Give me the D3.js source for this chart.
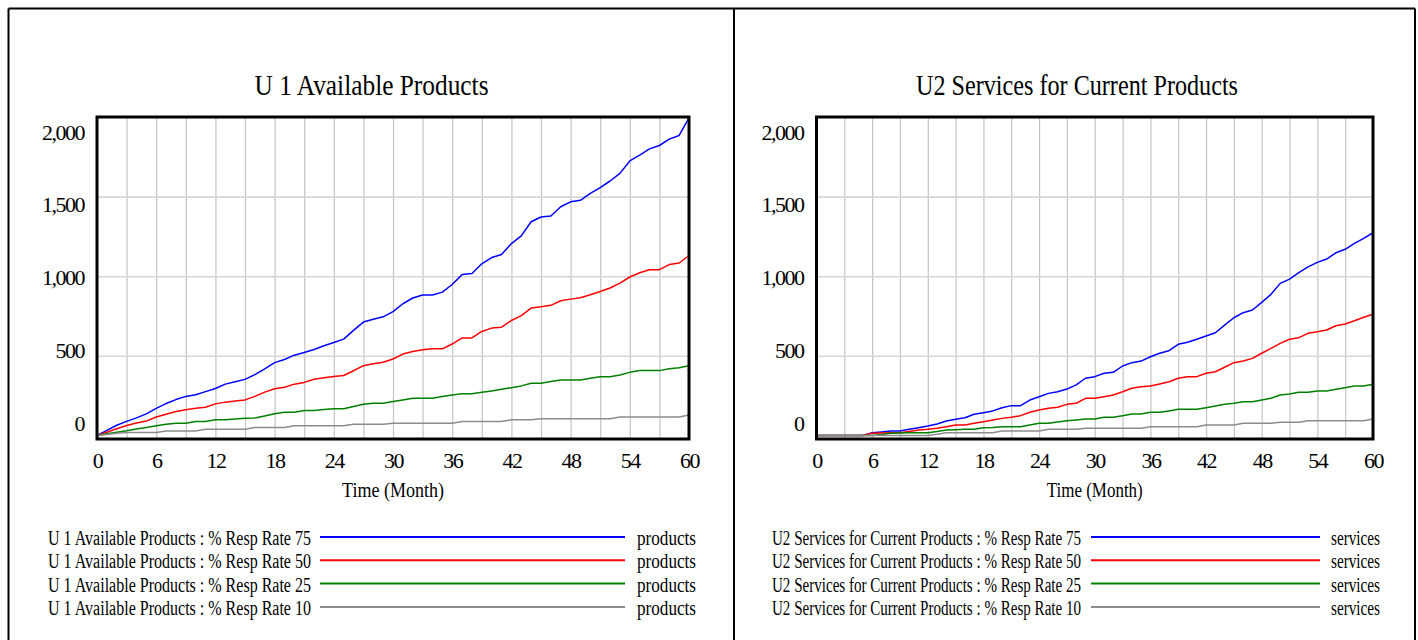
<!DOCTYPE html>
<html>
<head>
<meta charset="utf-8">
<script src="https://cdn.jsdelivr.net/npm/d3@7"></script>
<style>
  body { margin: 0; background: #fff; }
  text { font-family: "Liberation Serif", "Times New Roman", serif; fill: #000; }
</style>
</head>
<body>
<svg id="chart"></svg>
<script>
// Time axis (months) and tick labels
const MONTHS = d3.range(0, 61);
const X_TICKS = [0, 6, 12, 18, 24, 30, 36, 42, 48, 54, 60];
const GRID_MONTHS = [3, 6, 9, 12, 15, 18, 21, 24, 27, 30, 33, 36, 39, 42, 45, 48, 51, 54, 57];
const Y_TICKS = [0, 500, 1000, 1500, 2000];
const Y_GRID = [500, 1000, 1500];
const RESP_RATES = ['75', '50', '25', '10'];

// U1 Available Products (products), one value per month 0..60
const u1Resp75 = [0,32,64,88,110,135,170,200,225,245,255,275,295,322,337,352,382,418,457,477,504,521,540,563,584,605,660,712,729,745,778,827,863,882,882,900,948,1010,1017,1078,1117,1136,1205,1253,1342,1372,1378,1436,1467,1477,1520,1557,1598,1646,1724,1761,1800,1821,1861,1884,1995];
const u1Resp50 = [0,20,42,62,78,90,116,133,150,161,170,177,198,209,216,223,245,272,293,303,322,333,353,362,370,376,406,438,450,460,480,511,527,538,544,544,574,612,612,653,674,680,722,752,800,808,817,846,856,865,883,904,926,957,995,1022,1041,1041,1073,1083,1130];
const u1Resp25 = [0,10,20,29,40,50,61,70,77,77,88,88,98,98,103,107,109,122,136,146,146,157,157,162,167,167,182,196,202,202,213,223,234,234,234,244,254,261,261,271,279,290,300,311,327,327,338,348,348,348,359,369,369,379,396,407,407,407,419,425,437];
const u1Resp10 = [0,6,13,18,18,18,18,28,28,28,28,39,39,39,39,39,49,49,49,49,60,60,60,60,60,60,70,70,70,70,77,77,77,77,77,77,77,87,87,87,87,87,98,98,98,104,104,104,104,104,104,104,104,115,115,115,115,115,115,115,128];

// U2 Services for Current Products (services)
const u2Resp75 = [0,0,0,0,0,0,17,22,28,28,38,48,59,72,90,101,111,133,143,154,174,187,187,222,243,264,274,291,317,359,369,390,396,436,457,467,494,516,532,572,585,604,624,645,693,739,771,788,836,886,955,982,1022,1059,1087,1108,1147,1169,1206,1238,1273];
const u2Resp50 = [0,0,0,0,0,0,13,15,17,17,25,34,38,45,55,65,65,76,86,97,107,114,124,145,160,170,177,195,202,233,233,243,254,274,296,306,310,323,337,359,369,369,390,400,428,457,467,484,516,547,578,604,614,641,651,662,689,700,720,742,761];
const u2Resp25 = [0,0,0,0,0,0,0,5,13,15,16,17,17,25,34,36,38,38,48,50,55,55,55,65,76,76,84,92,97,103,103,114,114,124,134,134,145,145,154,164,164,164,174,185,195,202,212,212,222,233,254,260,271,271,279,279,290,300,310,310,321];
const u2Resp10 = [0,0,0,0,0,0,0,0,0,0,0,0,0,8,17,17,17,17,17,17,28,28,28,28,28,38,38,38,38,45,45,45,45,45,45,45,55,55,55,55,55,55,65,65,65,65,76,76,76,76,82,82,82,92,92,92,92,92,92,92,103];

const COLORS = ['#0000ff', '#ff0000', '#008000', '#8c8c8c'];

const W = 1418, H = 640;
const PLOT_TOP = 117, PLOT_BOTTOM = 439;

const PANELS = [
  {
    title: 'U 1 Available Products', titleX: 371.5, titleW: 234,
    x0: 97, x1: 689, xLabelW: 102,
    legendPrefix: 'U 1 Available Products : % Resp Rate ', legendEnd: 311, legendW: 263,
    lineX0: 320, lineX1: 625, unit: 'products', unitX: 637, unitW: 59,
    series: [u1Resp75, u1Resp50, u1Resp25, u1Resp10]
  },
  {
    title: 'U2 Services for Current Products', titleX: 1077, titleW: 322,
    x0: 816.5, x1: 1373, xLabelW: 96,
    legendPrefix: 'U2 Services for Current Products : % Resp Rate ', legendEnd: 1081, legendW: 309,
    lineX0: 1091, lineX1: 1320, unit: 'services', unitX: 1331, unitW: 49,
    series: [u2Resp75, u2Resp50, u2Resp25, u2Resp10]
  }
];

const svg = d3.select('#chart').attr('width', W).attr('height', H);
svg.append('rect').attr('width', W).attr('height', H).attr('fill', '#fff');

// outer frame (no bottom edge)
const frame = svg.append('g').attr('stroke', '#000').attr('stroke-width', 2);
frame.append('line').attr('x1', 8.5).attr('x2', 1415).attr('y1', 8.5).attr('y2', 8.5);
frame.append('line').attr('x1', 8.5).attr('x2', 8.5).attr('y1', 8.5).attr('y2', H);
frame.append('line').attr('x1', 734).attr('x2', 734).attr('y1', 8.5).attr('y2', H);
frame.append('line').attr('x1', 1415).attr('x2', 1415).attr('y1', 8.5).attr('y2', H);

PANELS.forEach(drawPanel);

function drawPanel(p) {
  const x = d3.scaleLinear().domain([0, 60]).range([p.x0, p.x1]);
  const y = d3.scaleLinear().domain([-10, 2000]).range([437, PLOT_TOP]);
  // Vensim spaces the value labels a little differently from the grid
  const yLabel = d3.scaleLinear().domain([0, 2000]).range([423, 132]);
  const g = svg.append('g');

  // Title
  g.append('text')
    .attr('x', p.titleX).attr('y', 95)
    .attr('text-anchor', 'middle')
    .attr('font-size', 30)
    .attr('textLength', p.titleW).attr('lengthAdjust', 'spacingAndGlyphs')
    .text(p.title);

  // Gridlines
  g.append('g')
    .attr('transform', `translate(0,${PLOT_BOTTOM})`)
    .call(d3.axisBottom(x).tickValues(GRID_MONTHS).tickSize(-(PLOT_BOTTOM - PLOT_TOP)).tickFormat(''))
    .call(ax => ax.select('.domain').remove())
    .selectAll('line').attr('stroke', '#c4c4c4').attr('stroke-width', 1.2);

  g.append('g')
    .attr('transform', `translate(${p.x0},0)`)
    .call(d3.axisLeft(y).tickValues(Y_GRID).tickSize(-(p.x1 - p.x0)).tickFormat(''))
    .call(ax => ax.select('.domain').remove())
    .selectAll('line').attr('stroke', '#d6d6d6').attr('stroke-width', 1.6);

  // Series lines
  const line = d3.line().x((d, i) => x(MONTHS[i])).y(d => y(d));
  g.selectAll('.series')
    .data(p.series)
    .join('path')
      .attr('class', 'series')
      .attr('fill', 'none')
      .attr('stroke', (d, i) => COLORS[i])
      .attr('stroke-width', 1.5)
      .attr('stroke-linejoin', 'round')
      .attr('d', line);

  // Plot frame
  g.append('rect')
    .attr('x', p.x0).attr('y', PLOT_TOP)
    .attr('width', p.x1 - p.x0).attr('height', PLOT_BOTTOM - PLOT_TOP)
    .attr('fill', 'none').attr('stroke', '#000').attr('stroke-width', 3);

  // Axes labels
  g.append('g')
    .attr('transform', `translate(0,${PLOT_BOTTOM})`)
    .call(d3.axisBottom(x).tickValues(X_TICKS).tickSize(0).tickPadding(13))
    .call(ax => ax.select('.domain').remove())
    .selectAll('text')
      .attr('font-family', '"Liberation Serif", serif')
      .attr('font-size', 22).attr('letter-spacing', -1.5).attr('fill', '#000');

  g.append('g')
    .attr('transform', `translate(${p.x0},0)`)
    .call(d3.axisLeft(yLabel).tickValues(Y_TICKS).tickSize(0).tickPadding(13).tickFormat(d3.format(',')))
    .call(ax => ax.select('.domain').remove())
    .selectAll('text')
      .attr('font-family', '"Liberation Serif", serif')
      .attr('font-size', 22).attr('letter-spacing', -1.5).attr('fill', '#000');

  g.append('text')
    .attr('x', (p.x0 + p.x1) / 2).attr('y', 497)
    .attr('text-anchor', 'middle')
    .attr('font-size', 22)
    .attr('textLength', p.xLabelW).attr('lengthAdjust', 'spacingAndGlyphs')
    .text('Time (Month)');

  // Legend
  const rows = g.selectAll('.legend-row')
    .data(RESP_RATES)
    .join('g')
      .attr('class', 'legend-row')
      .attr('transform', (d, i) => `translate(0,${537 + i * 23.3})`);

  rows.append('text')
    .attr('x', p.legendEnd - p.legendW).attr('y', 8)
    .attr('font-size', 20)
    .attr('textLength', p.legendW).attr('lengthAdjust', 'spacingAndGlyphs')
    .text(d => p.legendPrefix + d);

  rows.append('line')
    .attr('x1', p.lineX0).attr('x2', p.lineX1)
    .attr('y1', 0).attr('y2', 0)
    .attr('stroke', (d, i) => COLORS[i])
    .attr('stroke-width', 2);

  rows.append('text')
    .attr('x', p.unitX).attr('y', 8)
    .attr('font-size', 20)
    .attr('textLength', p.unitW).attr('lengthAdjust', 'spacingAndGlyphs')
    .text(p.unit);
}
</script>
</body>
</html>
